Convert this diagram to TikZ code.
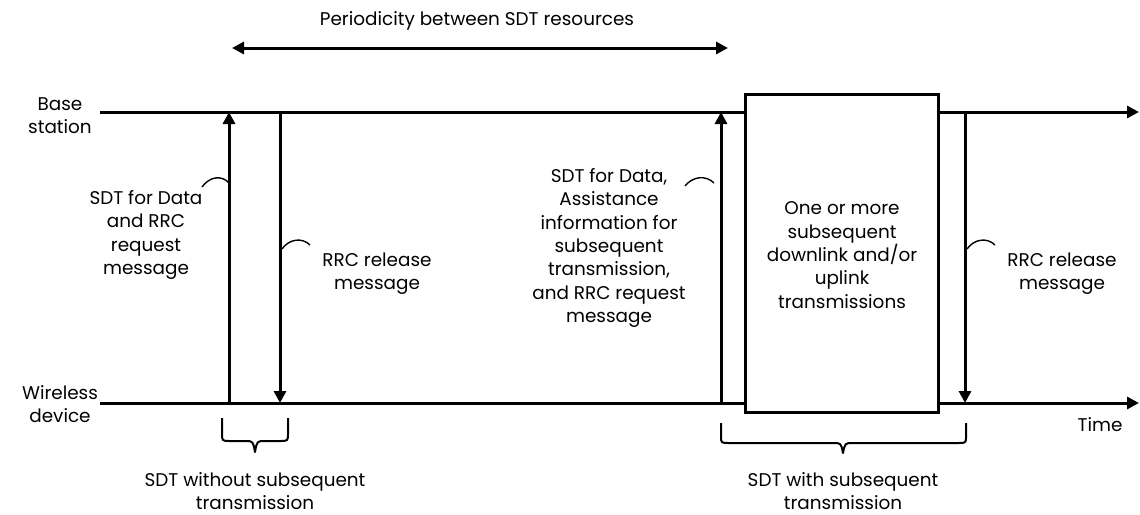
\documentclass[tikz,border=0pt]{standalone}
\usepackage{fontspec}
\setmainfont{Poppins}
\usetikzlibrary{arrows.meta}
\begin{document}
\begin{tikzpicture}[x=1pt,y=-1pt,
  lbl/.style={align=center,inner sep=0pt,font=\fontsize{18.4}{23.3}\selectfont},
  axis/.style={line width=3pt,-{Triangle[length=12pt,width=12pt]}},
  msg/.style={line width=3pt,-{Triangle[length=12pt,width=12pt]}},
  hook/.style={line width=1.4pt},
  brace/.style={line width=2pt,line join=round},
  box/.style={draw,line width=3pt,fill=white}]
\useasboundingbox (0,0) rectangle (1140,514);
% timelines
\coordinate (bsL) at (100,112);
\coordinate (bsR) at (1139,112);
\coordinate (wdL) at (100,403);
\coordinate (wdR) at (1139,403);
\draw[axis] (bsL) -- (bsR);
\draw[axis] (wdL) -- (wdR);
\node[lbl] (bs) at (60,116) {Base\\station};
\node[lbl] (wd) at (60,404) {Wireless\\device};
\node[lbl] (time) at (1100,425) {Time};
% periodicity
\node[lbl] (per) at (477,21) {Periodicity between SDT resources};
\coordinate (pL) at (232,48);
\coordinate (pR) at (728,48);
\draw[line width=3pt,{Triangle[length=12pt,width=12pt]}-{Triangle[length=12pt,width=12pt]}] (pL) -- (pR);
% box
\node[box,minimum width=193pt,minimum height=318pt,inner sep=0pt] (bx) at (841.5,253) {};
\node[lbl] (bxt) at (842,255) {One or more\\subsequent\\downlink and/or\\uplink\\transmissions};
% message arrows
\coordinate (a1b) at (229,403); \coordinate (a1t) at (229,112);
\coordinate (a2t) at (280,112); \coordinate (a2b) at (280,403);
\coordinate (a3b) at (721,403); \coordinate (a3t) at (721,112);
\coordinate (a4t) at (965,112); \coordinate (a4b) at (965,403);
\draw[msg] (a1b) -- (a1t);
\draw[msg] (a2t) -- (a2b);
\draw[msg] (a3b) -- (a3t);
\draw[msg] (a4t) -- (a4b);
% labels
\node[lbl] (l1) at (146,235) {SDT for Data\\and RRC\\request\\message};
\node[lbl] (l2) at (377,274) {RRC release\\message};
\node[lbl] (l3) at (609,248) {SDT for Data,\\Assistance\\information for\\subsequent\\transmission,\\and RRC request\\message};
\node[lbl] (l4) at (1062,274) {RRC release\\message};
% hooks
\draw[hook] (202,187) .. controls (210,176) and (222,175) .. (229,183);
\draw[hook] (282,249) .. controls (289,239) and (302,237) .. (310,245);
\draw[hook] (685,186) .. controls (693,176) and (706,175) .. (714,183);
\draw[hook] (967,249) .. controls (974,239) and (987,237) .. (995,245);
% braces
\draw[brace] (222,418) -- (222,433) .. controls (222,441) .. (230,441) -- (245,441) .. controls (253,441) .. (255,452) .. controls (257,441) .. (265,441) -- (280,441) .. controls (288,441) .. (288,433) -- (288,418);
\draw[brace] (721,423) -- (721,436) .. controls (721,443) .. (729,443) -- (833,443) .. controls (841,443) .. (843,453) .. controls (845,443) .. (853,443) -- (958,443) .. controls (966,443) .. (966,436) -- (966,423);
\node[lbl] (b1) at (255,491) {SDT without subsequent\\transmission};
\node[lbl] (b2) at (843,491) {SDT with subsequent\\transmission};
\end{tikzpicture}
\end{document}
